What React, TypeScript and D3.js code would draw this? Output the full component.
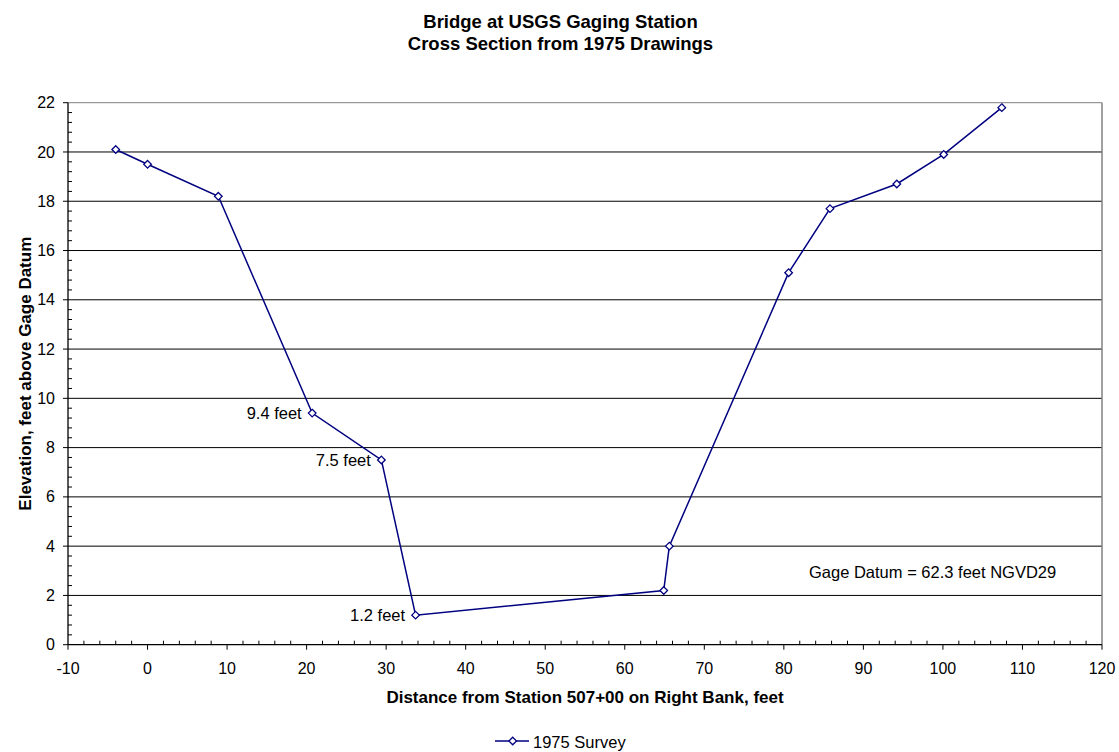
import React from "react";
import * as d3 from "d3";

const distances = [-4.0, 0.0, 8.9, 20.7, 29.4, 33.7, 64.9, 65.6, 80.6, 85.8, 94.2, 100.1, 107.4];
const elevations = [20.1, 19.5, 18.2, 9.4, 7.5, 1.2, 2.2, 4.0, 15.1, 17.7, 18.7, 19.9, 21.8];
const xTicks = [-10, 0, 10, 20, 30, 40, 50, 60, 70, 80, 90, 100, 110, 120];
const yTicks = [0, 2, 4, 6, 8, 10, 12, 14, 16, 18, 20, 22];
const annotations = [
  { index: 3, text: "9.4 feet" },
  { index: 4, text: "7.5 feet" },
  { index: 5, text: "1.2 feet" },
];
const seriesName = "1975 Survey";
const titleLines = ["Bridge at USGS Gaging Station", "Cross Section from 1975 Drawings"];
const xTitle = "Distance from Station 507+00 on Right Bank, feet";
const yTitle = "Elevation, feet above Gage Datum";
const datumNote = "Gage Datum = 62.3 feet NGVD29";

const W = 1119;
const H = 752;
const L = 68, R = 1102, T = 102.7, B = 644.7;
const FONT = "'Liberation Sans', Arial, sans-serif";
const NAVY = "#000080";

function Diamond({ x, y }: { x: number; y: number }) {
  const s = 3.8;
  return (
    <path
      d={`M${x},${y - s}L${x + s},${y}L${x},${y + s}L${x - s},${y}Z`}
      fill="white"
      stroke={NAVY}
      strokeWidth={1.3}
    />
  );
}

export default function App() {
  const x = d3.scaleLinear().domain([-10, 120]).range([L, R]);
  const y = d3.scaleLinear().domain([0, 22]).range([B, T]);
  const pts = distances.map((d, i) => [x(d), y(elevations[i])] as [number, number]);
  const line = d3.line()(pts) || "";
  const xMinor = d3.range(-10, 120.001, 2).filter((v) => Math.abs(v % 10) > 0.01);
  const yMinor = d3.range(0, 22.001, 0.4).filter((v) => Math.abs(v / 2 - Math.round(v / 2)) > 0.01);

  return (
    <svg
      width={W}
      height={H}
      style={{ position: "absolute", left: 0, top: 0, background: "white" }}
      fontFamily={FONT}
    >
      <rect x={0} y={0} width={W} height={H} fill="white" />
      {titleLines.map((t, i) => (
        <text key={t} x={560.5} y={27.5 + i * 22.5} textAnchor="middle" fontSize={18.5} fontWeight="bold">
          {t}
        </text>
      ))}
      {/* gridlines */}
      {yTicks.slice(1).map((v) => (
        <line key={v} x1={L} x2={R} y1={y(v)} y2={y(v)} stroke={v === 22 ? "#808080" : "#000"} strokeWidth={1} />
      ))}
      <line x1={R} x2={R} y1={T} y2={B} stroke="#808080" strokeWidth={1.5} />
      {/* axes */}
      <line x1={L} x2={L} y1={T} y2={B} stroke="#000" strokeWidth={1.3} />
      <line x1={L} x2={R} y1={B} y2={B} stroke="#000" strokeWidth={1.3} />
      {yTicks.map((v) => (
        <g key={v}>
          <line x1={L - 5} x2={L} y1={y(v)} y2={y(v)} stroke="#000" />
          <text x={55} y={y(v) + 5.6} textAnchor="end" fontSize={16}>
            {v}
          </text>
        </g>
      ))}
      {yMinor.map((v) => (
        <line key={v} x1={L} x2={L + 4} y1={y(v)} y2={y(v)} stroke="#000" />
      ))}
      {xTicks.map((v) => (
        <g key={v}>
          <line x1={x(v)} x2={x(v)} y1={B} y2={B + 5} stroke="#000" />
          <text x={x(v)} y={674.3} textAnchor="middle" fontSize={16}>
            {v}
          </text>
        </g>
      ))}
      {xMinor.map((v) => (
        <line key={v} x1={x(v)} x2={x(v)} y1={B - 4} y2={B} stroke="#000" />
      ))}
      {/* axis titles */}
      <text x={585} y={703.3} textAnchor="middle" fontSize={17} fontWeight="bold">
        {xTitle}
      </text>
      <text
        transform={`translate(31,${(T + B) / 2}) rotate(-90)`}
        textAnchor="middle"
        fontSize={17}
        fontWeight="bold"
      >
        {yTitle}
      </text>
      {/* series */}
      <path d={line} fill="none" stroke={NAVY} strokeWidth={1.5} />
      {pts.map(([px, py], i) => (
        <Diamond key={i} x={px} y={py} />
      ))}
      {annotations.map((a) => (
        <text key={a.text} x={pts[a.index][0] - 10.5} y={pts[a.index][1] + 6} textAnchor="end" fontSize={16.5}>
          {a.text}
        </text>
      ))}
      <text x={809} y={578.3} fontSize={16.5}>
        {datumNote}
      </text>
      {/* legend */}
      <line x1={495} x2={529} y1={741} y2={741} stroke={NAVY} strokeWidth={1.5} />
      <Diamond x={512.7} y={741} />
      <text x={533} y={747.5} fontSize={16.5}>
        {seriesName}
      </text>
    </svg>
  );
}
